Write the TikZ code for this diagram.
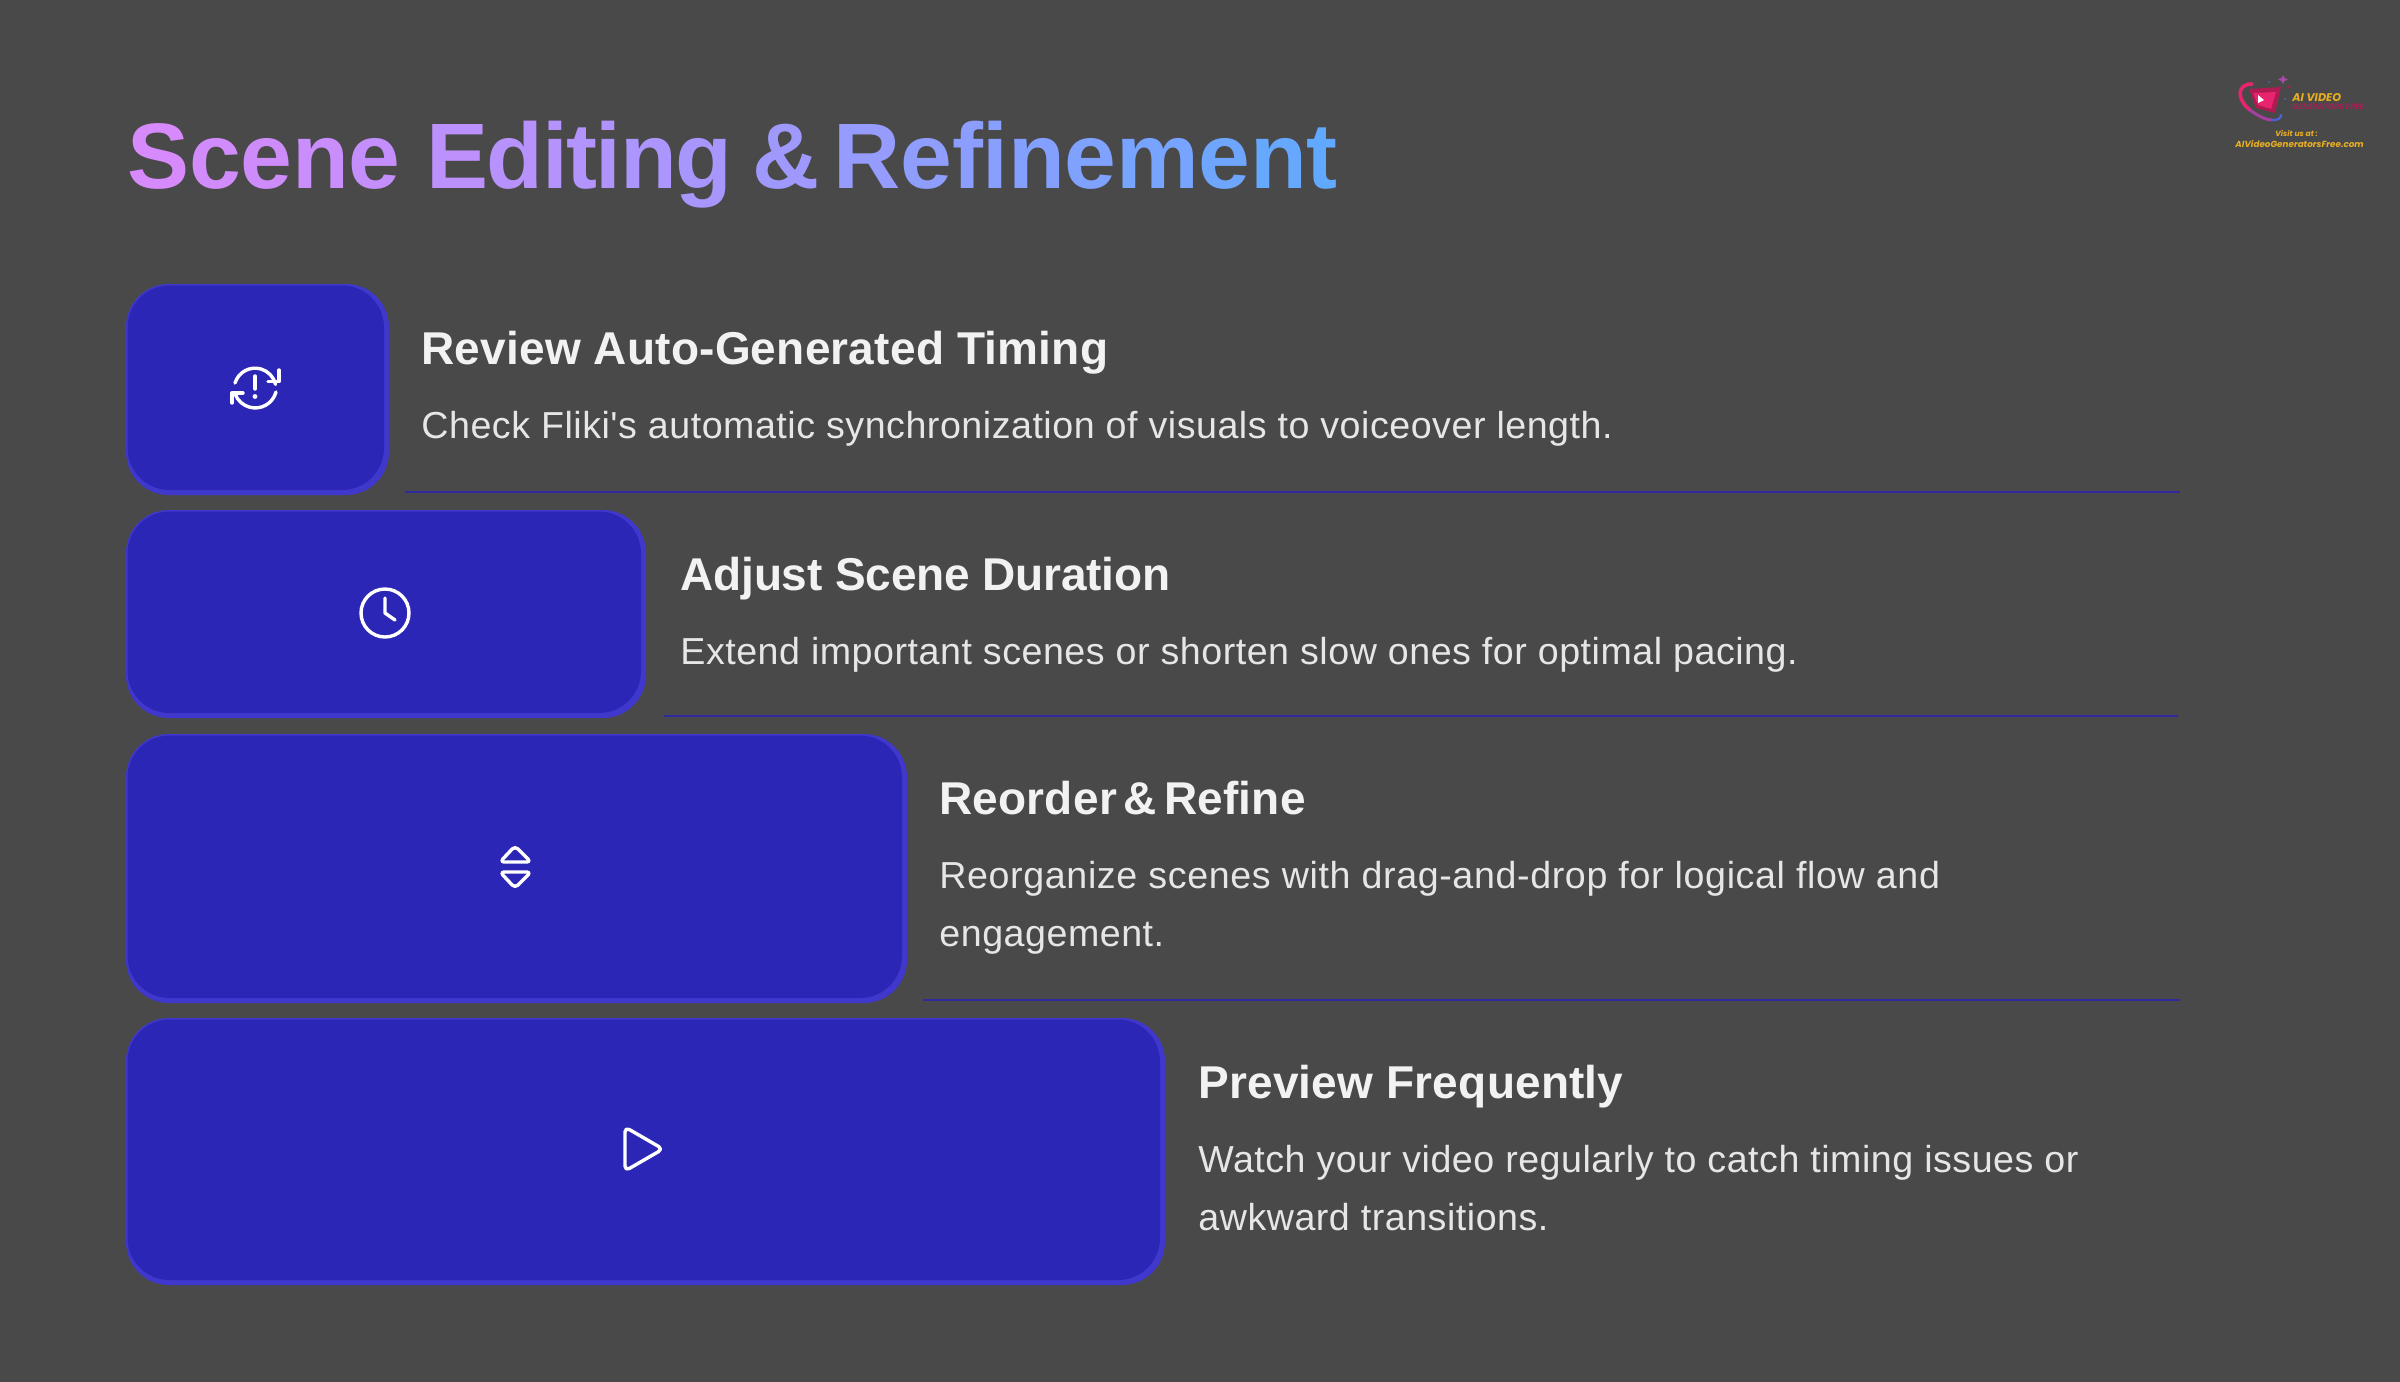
\documentclass[tikz,border=0pt]{standalone}
\usepackage{fontspec}
\setmainfont{Liberation Sans}
\newfontfamily\titlefont{Liberation Sans}
\newfontfamily\headfont[LetterSpace=0.45]{Liberation Sans}
\newfontfamily\bodyfont[LetterSpace=1.4]{Liberation Sans}
\newfontfamily\logofont{Poppins}
\usetikzlibrary{positioning}

\definecolor{bgcol}{HTML}{4A494A}
\definecolor{boxfill}{HTML}{2C26B6}
\definecolor{boxedge}{HTML}{4038CC}
\definecolor{linecol}{HTML}{2F28A0}
\definecolor{headcol}{HTML}{F2F2F2}
\definecolor{bodycol}{HTML}{E6E6E6}
\definecolor{titleA}{HTML}{D68AFB}
\definecolor{titleB}{HTML}{5FAAFF}
\definecolor{logogold}{HTML}{E8AE22}
\definecolor{logored}{HTML}{A52055}
\definecolor{logopink}{HTML}{E8246E}
\definecolor{logoblue}{HTML}{4A63D8}

% one title letter, tight or loose
\newcommand{\tl}[2]{\textcolor{titleB!#2!titleA}{#1}\kern-0.72pt\relax}
\newcommand{\tr}[2]{\textcolor{titleB!#2!titleA}{#1}\kern-0.12pt\relax}

\tikzset{
  edgebox/.style={fill=boxedge,draw=none,rounded corners=21.5pt},
  innerbox/.style={fill=boxfill,draw=none,rounded corners=21pt},
  icon/.style={draw=white,line width=1.7pt,line cap=round,line join=round},
  divider/.style={draw=linecol,line width=1pt},
  headtext/.style={anchor=base west,inner sep=0pt,text=headcol,font=\headfont\bfseries\fontsize{23}{28}\selectfont},
  bodytext/.style={anchor=base west,inner sep=0pt,align=left,text=bodycol,font=\bodyfont\fontsize{18.8}{29}\selectfont},
  logotext/.style={anchor=base west,inner sep=0pt,font=\logofont\bfseries\itshape},
}

\begin{document}
\begin{tikzpicture}[x=0.5pt,y=-0.5pt]
\useasboundingbox (0,0) rectangle (2400,1382);
\fill [bgcol] (0,0) rectangle (2400,1382);

% title
\node [anchor=base west,inner sep=0pt,font=\titlefont\bfseries\fontsize{46.5}{50}\selectfont] (title) at (127,188)
  {\tr{S}{0}\tr{c}{3}\tr{e}{7}\tr{n}{11}\tr{e}{15} \tl{E}{21}\tl{d}{25}\tl{i}{28}\tl{t}{30}\tl{i}{32}\tl{n}{35}\tl{g}{39} \kern-2pt\tl{\&}{46}\kern-5.4pt\relax{} \tr{R}{55}\tr{e}{60}\tr{f}{63}\tr{i}{65}\tr{n}{69}\tr{e}{74}\tr{m}{81}\tr{e}{87}\tr{n}{93}\tr{t}{98}};

% row boxes
\fill [edgebox] (126,284) rectangle (389,495);
\fill [innerbox] (127.5,285.5) rectangle (384,490);
\fill [edgebox] (126,510) rectangle (646,718);
\fill [innerbox] (127.5,511.5) rectangle (641,713);
\fill [edgebox] (126,734) rectangle (907,1003);
\fill [innerbox] (127.5,735.5) rectangle (902,998);
\fill [edgebox] (126,1018) rectangle (1165,1285);
\fill [innerbox] (127.5,1019.5) rectangle (1160,1280);

% divider lines
\draw [divider] (405,492)--(2180,492);
\draw [divider] (664,716)--(2178,716);
\draw [divider] (923,1000)--(2180,1000);

% icon 1
\draw [icon] (235,383) arc [start angle=197,end angle=347,radius=21];
\draw [icon] (279,370)--(279,381.5)--(268,381.5);
\draw [icon] (276,392) arc [start angle=15,end angle=158,radius=21.5];
\draw [icon] (232,403)--(232,393)--(243,393);
\draw [icon] (255,376)--(255,389);
\fill [white] (255,396.5) circle [radius=2.4];

% icon 2
\draw [icon] (385,613) circle [radius=24];
\draw [icon] (385,598)--(385,613)--(395,620);

% icon 3
\draw [icon,rounded corners=2pt] (515,846)--(531,862)--(500,862)--cycle;
\draw [icon,rounded corners=2pt] (515,888)--(531,872)--(500,872)--cycle;

% icon 4
\draw [icon,rounded corners=2.5pt] (625,1127)--(663,1149)--(625,1171)--cycle;

% row texts
\node [headtext] (head1) at (421,364) {Review Auto-Generated Timing};
\node [bodytext] (body1) at (421,438.5) {Check Fliki's automatic synchronization of visuals to voiceover length.};
\node [headtext] (head2) at (680,590) {\addfontfeature{LetterSpace=-0.38}Adjust Scene Duration};
\node [bodytext] (body2) at (680,664) {Extend important scenes or shorten slow ones for optimal pacing.};
\node [headtext] (head3) at (939,814) {Reorder\kern-3pt\relax{} \& \kern-3pt\relax{}Refine};
\node [bodytext] (body3) at (939,946) {\addfontfeature{LetterSpace=1.68}Reorganize scenes with drag-and-drop for logical flow and\\engagement.};
\node [headtext] (head4) at (1198,1098) {Preview Frequently};
\node [bodytext] (body4) at (1198,1230) {Watch your video regularly to catch timing issues or\\awkward transitions.};

% logo
\draw [logopink,line width=1.8pt,line cap=round] (2252,84) .. controls (2236,84) and (2237,100) .. (2250,110);
\draw [logopink!55!logoblue,line width=1.5pt,line cap=round] (2250,110) .. controls (2258,116) and (2266,120) .. (2272,120);
\draw [logoblue,line width=1.1pt,line cap=round] (2272,120) .. controls (2278,120.5) and (2281,118) .. (2281,115);
\fill [logopink!75!black] (2249,89)--(2281,87)--(2275,113)--(2256,108)--cycle;
\fill [logopink] (2253,93)--(2276,92)--(2271,109)--(2258,105)--cycle;
\fill [white] (2258,95)--(2264,100)--(2258,103)--cycle;
\fill [violet!70!white] (2283,75)--(2284.5,78)--(2288,79.5)--(2284.5,81)--(2283,84)--(2281.5,81)--(2278,79.5)--(2281.5,78)--cycle;
\fill [logored] (2289,87) circle [radius=1.5];
\fill [logoblue] (2269,82) circle [radius=1];
\fill [logoblue] (2285,99) circle [radius=1];
\node [logotext,text=logogold,font=\logofont\bfseries\itshape\fontsize{5.6}{7}\selectfont] (logo1) at (2292,101) {AI VIDEO};
\node [logotext,text=logored,font=\logofont\bfseries\itshape\fontsize{3.9}{5}\selectfont] (logo2) at (2292,109) {GENERATORS FREE};
\node [logotext,text=logogold,font=\logofont\bfseries\itshape\fontsize{3.8}{5}\selectfont] (logo3) at (2275,136) {Visit us at :};
\node [logotext,text=logogold,font=\logofont\bfseries\itshape\fontsize{4.4}{6}\selectfont] (logo4) at (2235,147) {AIVideoGeneratorsFree.com};

\end{tikzpicture}
\end{document}
